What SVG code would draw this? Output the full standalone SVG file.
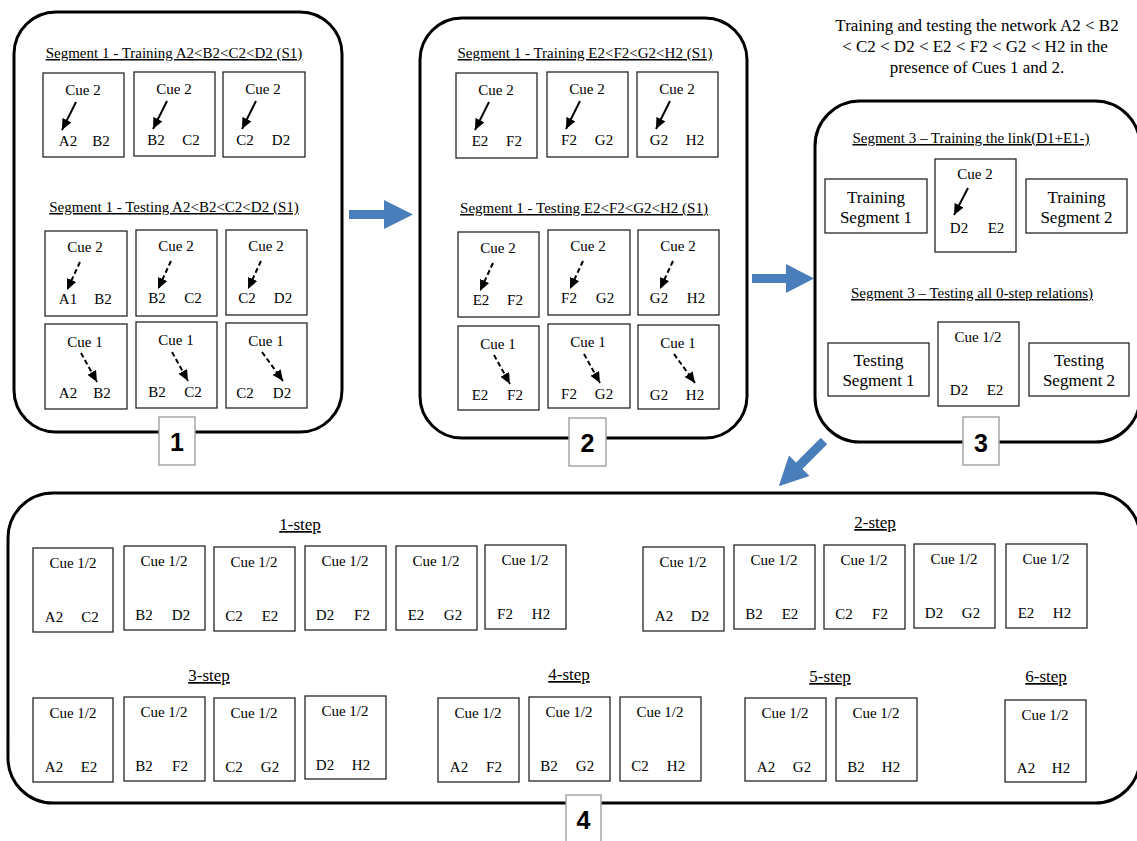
<svg xmlns="http://www.w3.org/2000/svg" width="1137" height="841" viewBox="0 0 1137 841">
<defs>
<style>
.panel{fill:none;stroke:#000;stroke-width:3}
.box{fill:#fff;stroke:#262626;stroke-width:1.3}
text{font-family:"Liberation Serif","Times New Roman",serif;font-size:15px;fill:#000}
.m{text-anchor:middle}
.u{text-decoration:underline;text-anchor:middle}
.h{font-size:17px;text-anchor:middle}
.big{font-size:17px;text-anchor:middle}
.lab{fill:#fff;stroke:#a6a6a6;stroke-width:1.5}
.num{font-family:"Liberation Sans",Arial,sans-serif;font-weight:bold;font-size:25px;text-anchor:middle}
.ar{stroke:#000;stroke-width:2;fill:none;marker-end:url(#ah)}
.da{stroke-dasharray:5 3}
.blue{fill:#4a7ebb}
</style>
<marker id="ah" markerUnits="userSpaceOnUse" markerWidth="11" markerHeight="10" refX="11" refY="5" orient="auto" viewBox="0 0 11 10">
<path d="M0,0 L11,5 L0,10 z" fill="#000"/>
</marker>
<path id="bar" d="M0,-4.5 L35,-4.5 L35,-14.5 L64,0 L35,14.5 L35,4.5 L0,4.5 z"/>
</defs>
<rect width="1137" height="841" fill="#fff"/>

<!-- Panel 1 -->
<g id="panel1">
<rect class="panel" x="14" y="12" width="328" height="420" rx="42"/>
<text class="u" x="174" y="58">Segment 1 - Training A2&lt;B2&lt;C2&lt;D2 (S1)</text>
<text class="u" x="174" y="212">Segment 1 - Testing A2&lt;B2&lt;C2&lt;D2 (S1)</text>
</g>
<g id="p1-tr1" transform="translate(43,73)"><rect class="box" width="81" height="84"/><text class="m" x="40" y="22">Cue 2</text><line class="ar" x1="33" y1="29" x2="19" y2="57"/><text class="m" x="25" y="73">A2</text><text class="m" x="58" y="73">B2</text></g>
<g id="p1-tr2" transform="translate(134,72)"><rect class="box" width="81" height="84"/><text class="m" x="40" y="22">Cue 2</text><line class="ar" x1="33" y1="29" x2="19" y2="57"/><text class="m" x="22" y="73">B2</text><text class="m" x="57" y="73">C2</text></g>
<g id="p1-tr3" transform="translate(223,72)"><rect class="box" width="82" height="85"/><text class="m" x="40" y="22">Cue 2</text><line class="ar" x1="33" y1="29" x2="19" y2="57"/><text class="m" x="22" y="73">C2</text><text class="m" x="58" y="73">D2</text></g>
<g id="p1-te1" transform="translate(45,231)"><rect class="box" width="82" height="85"/><text class="m" x="40" y="21">Cue 2</text><line class="ar da" x1="35" y1="31" x2="22" y2="59"/><text class="m" x="23" y="73">A1</text><text class="m" x="58" y="73">B2</text></g>
<g id="p1-te2" transform="translate(136,230)"><rect class="box" width="81" height="86"/><text class="m" x="40" y="21">Cue 2</text><line class="ar da" x1="35" y1="31" x2="22" y2="59"/><text class="m" x="21" y="73">B2</text><text class="m" x="57" y="73">C2</text></g>
<g id="p1-te3" transform="translate(226,230)"><rect class="box" width="81" height="85"/><text class="m" x="40" y="21">Cue 2</text><line class="ar da" x1="35" y1="31" x2="22" y2="59"/><text class="m" x="21" y="73">C2</text><text class="m" x="57" y="73">D2</text></g>
<g id="p1-te4" transform="translate(45,324)"><rect class="box" width="82" height="85"/><text class="m" x="40" y="23">Cue 1</text><line class="ar da" x1="36" y1="29" x2="52" y2="58"/><text class="m" x="23" y="74">A2</text><text class="m" x="57" y="74">B2</text></g>
<g id="p1-te5" transform="translate(136,322)"><rect class="box" width="81" height="86"/><text class="m" x="40" y="23">Cue 1</text><line class="ar da" x1="36" y1="30" x2="52" y2="59"/><text class="m" x="21" y="75">B2</text><text class="m" x="57" y="75">C2</text></g>
<g id="p1-te6" transform="translate(226,323)"><rect class="box" width="81" height="85"/><text class="m" x="40" y="23">Cue 1</text><line class="ar da" x1="36" y1="29" x2="57" y2="58"/><text class="m" x="19" y="75">C2</text><text class="m" x="56" y="75">D2</text></g>
<g id="label1"><rect class="lab" x="159" y="417" width="36" height="48"/><text class="num" x="177" y="451">1</text></g>

<!-- Panel 2 -->
<g id="panel2">
<rect class="panel" x="420" y="18" width="327" height="420" rx="42"/>
<text class="u" x="585" y="58">Segment 1 - Training E2&lt;F2&lt;G2&lt;H2 (S1)</text>
<text class="u" x="584" y="213">Segment 1 - Testing E2&lt;F2&lt;G2&lt;H2 (S1)</text>
</g>
<g id="p2-tr1" transform="translate(456,73)"><rect class="box" width="81" height="85"/><text class="m" x="40" y="22">Cue 2</text><line class="ar" x1="33" y1="29" x2="19" y2="57"/><text class="m" x="24" y="73">E2</text><text class="m" x="58" y="73">F2</text></g>
<g id="p2-tr2" transform="translate(547,72)"><rect class="box" width="81" height="85"/><text class="m" x="40" y="22">Cue 2</text><line class="ar" x1="33" y1="29" x2="19" y2="57"/><text class="m" x="22" y="73">F2</text><text class="m" x="57" y="73">G2</text></g>
<g id="p2-tr3" transform="translate(637,72)"><rect class="box" width="81" height="85"/><text class="m" x="40" y="22">Cue 2</text><line class="ar" x1="33" y1="29" x2="19" y2="57"/><text class="m" x="22" y="73">G2</text><text class="m" x="58" y="73">H2</text></g>
<g id="p2-te1" transform="translate(458,232)"><rect class="box" width="81" height="85"/><text class="m" x="40" y="21">Cue 2</text><line class="ar da" x1="35" y1="31" x2="22" y2="59"/><text class="m" x="23" y="73">E2</text><text class="m" x="57" y="73">F2</text></g>
<g id="p2-te2" transform="translate(548,230)"><rect class="box" width="82" height="85"/><text class="m" x="40" y="21">Cue 2</text><line class="ar da" x1="35" y1="31" x2="22" y2="59"/><text class="m" x="21" y="73">F2</text><text class="m" x="57" y="73">G2</text></g>
<g id="p2-te3" transform="translate(638,230)"><rect class="box" width="81" height="85"/><text class="m" x="40" y="21">Cue 2</text><line class="ar da" x1="35" y1="31" x2="22" y2="59"/><text class="m" x="21" y="73">G2</text><text class="m" x="58" y="73">H2</text></g>
<g id="p2-te4" transform="translate(458,326)"><rect class="box" width="81" height="84"/><text class="m" x="40" y="23">Cue 1</text><line class="ar da" x1="36" y1="29" x2="52" y2="58"/><text class="m" x="22" y="74">E2</text><text class="m" x="57" y="74">F2</text></g>
<g id="p2-te5" transform="translate(548,324)"><rect class="box" width="82" height="84"/><text class="m" x="40" y="23">Cue 1</text><line class="ar da" x1="36" y1="30" x2="52" y2="59"/><text class="m" x="21" y="75">F2</text><text class="m" x="56" y="75">G2</text></g>
<g id="p2-te6" transform="translate(638,325)"><rect class="box" width="81" height="84"/><text class="m" x="40" y="23">Cue 1</text><line class="ar da" x1="36" y1="29" x2="57" y2="58"/><text class="m" x="21" y="75">G2</text><text class="m" x="57" y="75">H2</text></g>
<g id="label2"><rect class="lab" x="569" y="418" width="37" height="48"/><text class="num" x="587.5" y="452">2</text></g>

<!-- Panel 3 -->
<g id="heading">
<text class="h" x="977" y="31">Training and testing the network A2 &lt; B2</text>
<text class="h" x="975" y="52">&lt; C2 &lt; D2 &lt; E2 &lt; F2 &lt; G2 &lt; H2 in the</text>
<text class="h" x="977" y="73">presence of Cues 1 and 2.</text>
</g>
<g id="panel3">
<rect class="panel" x="815" y="101" width="325" height="341" rx="45"/>
<text class="u" x="971" y="143">Segment 3 – Training the link(D1+E1-)</text>
<text class="u" x="972" y="298">Segment 3 – Testing all 0-step relations)</text>
</g>
<g id="p3-trs1" transform="translate(825,179)"><rect class="box" width="102" height="54"/><text class="big" x="51" y="24">Training</text><text class="big" x="51" y="44">Segment  1</text></g>
<g id="p3-link" transform="translate(935,159)"><rect class="box" width="81" height="93"/><text class="m" x="40" y="20">Cue 2</text><line class="ar" x1="33" y1="29" x2="19" y2="56"/><text class="m" x="24" y="74">D2</text><text class="m" x="61" y="74">E2</text></g>
<g id="p3-trs2" transform="translate(1026,179)"><rect class="box" width="101" height="54"/><text class="big" x="50.5" y="24">Training</text><text class="big" x="50.5" y="44">Segment  2</text></g>
<g id="p3-tes1" transform="translate(828,343)"><rect class="box" width="101" height="53"/><text class="big" x="50.5" y="23">Testing</text><text class="big" x="50.5" y="43">Segment  1</text></g>
<g id="p3-test" transform="translate(938,322)"><rect class="box" width="81" height="84"/><text class="m" x="40" y="20">Cue 1/2</text><text class="m" x="21" y="73">D2</text><text class="m" x="57" y="73">E2</text></g>
<g id="p3-tes2" transform="translate(1029,343)"><rect class="box" width="100" height="53"/><text class="big" x="50" y="23">Testing</text><text class="big" x="50" y="43">Segment  2</text></g>
<g id="label3"><rect class="lab" x="963" y="417" width="36" height="48"/><text class="num" x="981" y="452">3</text></g>

<!-- Panel 4 -->
<g id="panel4">
<rect class="panel" x="8" y="493" width="1132" height="310" rx="45"/>
<text class="u big" x="300" y="530">1-step</text>
<text class="u big" x="875" y="528">2-step</text>
<text class="u big" x="209" y="681">3-step</text>
<text class="u big" x="569" y="680">4-step</text>
<text class="u big" x="830" y="682">5-step</text>
<text class="u big" x="1046" y="682">6-step</text>
</g>
<g id="s1-1" transform="translate(33,548)"><rect class="box" width="80" height="84"/><text class="m" x="40" y="20">Cue 1/2</text><text class="m" x="21" y="74">A2</text><text class="m" x="57" y="74">C2</text></g>
<g id="s1-2" transform="translate(124,546)"><rect class="box" width="81" height="84"/><text class="m" x="40" y="20">Cue 1/2</text><text class="m" x="20" y="74">B2</text><text class="m" x="57" y="74">D2</text></g>
<g id="s1-3" transform="translate(214,547)"><rect class="box" width="81" height="84"/><text class="m" x="40" y="20">Cue 1/2</text><text class="m" x="20" y="74">C2</text><text class="m" x="56" y="74">E2</text></g>
<g id="s1-4" transform="translate(305,546)"><rect class="box" width="81" height="84"/><text class="m" x="40" y="20">Cue 1/2</text><text class="m" x="20" y="74">D2</text><text class="m" x="57" y="74">F2</text></g>
<g id="s1-5" transform="translate(396,546)"><rect class="box" width="81" height="84"/><text class="m" x="40" y="20">Cue 1/2</text><text class="m" x="20" y="74">E2</text><text class="m" x="57" y="74">G2</text></g>
<g id="s1-6" transform="translate(485,545)"><rect class="box" width="81" height="84"/><text class="m" x="40" y="20">Cue 1/2</text><text class="m" x="20" y="74">F2</text><text class="m" x="56" y="74">H2</text></g>
<g id="s2-1" transform="translate(643,547)"><rect class="box" width="81" height="84"/><text class="m" x="40" y="20">Cue 1/2</text><text class="m" x="21" y="74">A2</text><text class="m" x="57" y="74">D2</text></g>
<g id="s2-2" transform="translate(734,545)"><rect class="box" width="81" height="84"/><text class="m" x="40" y="20">Cue 1/2</text><text class="m" x="20" y="74">B2</text><text class="m" x="56" y="74">E2</text></g>
<g id="s2-3" transform="translate(824,545)"><rect class="box" width="81" height="84"/><text class="m" x="40" y="20">Cue 1/2</text><text class="m" x="20" y="74">C2</text><text class="m" x="56" y="74">F2</text></g>
<g id="s2-4" transform="translate(914,544)"><rect class="box" width="81" height="84"/><text class="m" x="40" y="20">Cue 1/2</text><text class="m" x="20" y="74">D2</text><text class="m" x="57" y="74">G2</text></g>
<g id="s2-5" transform="translate(1006,544)"><rect class="box" width="81" height="84"/><text class="m" x="40" y="20">Cue 1/2</text><text class="m" x="20" y="74">E2</text><text class="m" x="56" y="74">H2</text></g>
<g id="s3-1" transform="translate(33,698)"><rect class="box" width="80" height="84"/><text class="m" x="40" y="20">Cue 1/2</text><text class="m" x="21" y="74">A2</text><text class="m" x="56" y="74">E2</text></g>
<g id="s3-2" transform="translate(124,697)"><rect class="box" width="81" height="84"/><text class="m" x="40" y="20">Cue 1/2</text><text class="m" x="20" y="74">B2</text><text class="m" x="56" y="74">F2</text></g>
<g id="s3-3" transform="translate(214,698)"><rect class="box" width="81" height="83"/><text class="m" x="40" y="20">Cue 1/2</text><text class="m" x="20" y="74">C2</text><text class="m" x="56" y="74">G2</text></g>
<g id="s3-4" transform="translate(305,696)"><rect class="box" width="81" height="83"/><text class="m" x="40" y="20">Cue 1/2</text><text class="m" x="20" y="74">D2</text><text class="m" x="56" y="74">H2</text></g>
<g id="s4-1" transform="translate(438,698)"><rect class="box" width="81" height="84"/><text class="m" x="40" y="20">Cue 1/2</text><text class="m" x="21" y="74">A2</text><text class="m" x="56" y="74">F2</text></g>
<g id="s4-2" transform="translate(529,697)"><rect class="box" width="81" height="84"/><text class="m" x="40" y="20">Cue 1/2</text><text class="m" x="20" y="74">B2</text><text class="m" x="56" y="74">G2</text></g>
<g id="s4-3" transform="translate(620,697)"><rect class="box" width="81" height="84"/><text class="m" x="40" y="20">Cue 1/2</text><text class="m" x="20" y="74">C2</text><text class="m" x="56" y="74">H2</text></g>
<g id="s5-1" transform="translate(745,698)"><rect class="box" width="81" height="83"/><text class="m" x="40" y="20">Cue 1/2</text><text class="m" x="21" y="74">A2</text><text class="m" x="57" y="74">G2</text></g>
<g id="s5-2" transform="translate(836,698)"><rect class="box" width="81" height="83"/><text class="m" x="40" y="20">Cue 1/2</text><text class="m" x="20" y="74">B2</text><text class="m" x="55" y="74">H2</text></g>
<g id="s6-1" transform="translate(1005,700)"><rect class="box" width="81" height="82"/><text class="m" x="40" y="20">Cue 1/2</text><text class="m" x="21" y="73">A2</text><text class="m" x="56" y="73">H2</text></g>
<g id="label4"><rect class="lab" x="566" y="795" width="35" height="50"/><text class="num" x="583.5" y="829">4</text></g>

<!-- Connectors -->
<g id="connectors">
<use href="#bar" class="blue" transform="translate(349,214.5)"/>
<use href="#bar" class="blue" transform="translate(752,278.5) scale(0.97,1)"/>
<use href="#bar" class="blue" transform="translate(824,441) rotate(135)"/>
</g>
</svg>
